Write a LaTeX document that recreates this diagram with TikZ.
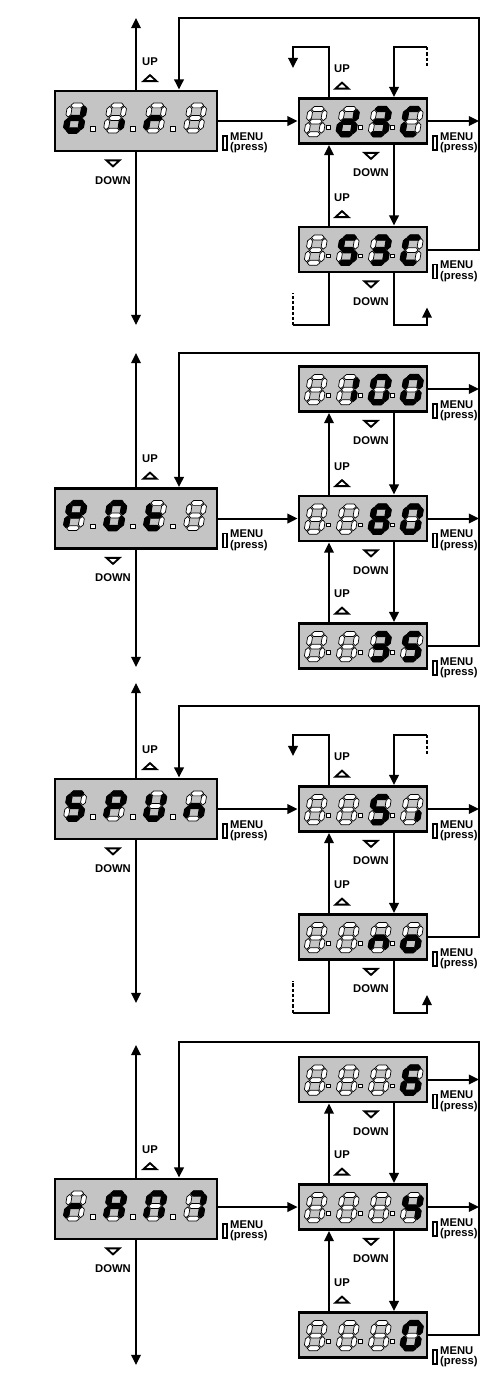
\documentclass[tikz,border=0pt]{standalone}
\usepackage{fontspec}
\setsansfont{Liberation Sans}
\usetikzlibrary{positioning, arrows.meta, calc}

\definecolor{lcd-gray}{HTML}{C4C4C4}

% seven segment geometry (digit 18 x 30, origin top left)
\def\segw{2.45}
\newcommand{\segH}[3]{(#1,#3) -- ({#1+\segw},{#3-\segw}) -- ({#2-\segw},{#3-\segw}) -- (#2,#3) -- ({#2-\segw},{#3+\segw}) -- ({#1+\segw},{#3+\segw}) -- cycle}
\newcommand{\segV}[3]{(#3,#1) -- ({#3+\segw},{#1+\segw}) -- ({#3+\segw},{#2-\segw}) -- (#3,#2) -- ({#3-\segw},{#2-\segw}) -- ({#3-\segw},{#1+\segw}) -- cycle}
\def\segpa{\segH{3.3}{16.1}{2.4}}
\def\segpg{\segH{3.3}{16.1}{15}}
\def\segpd{\segH{3.3}{16.1}{27.6}}
\def\segpf{\segV{3.3}{14.1}{2.4}}
\def\segpb{\segV{3.3}{14.1}{17}}
\def\segpe{\segV{15.9}{26.7}{2.4}}
\def\segpc{\segV{15.9}{26.7}{17}}
\def\segpx{}
\newcommand{\segpath}[1]{\csname segp#1\endcsname}

\tikzset{
  lcdL/.style={draw, line width=1.6pt, fill=lcd-gray, minimum width=3.24cm, minimum height=1.2cm, inner sep=0},
  lcdS/.style={lcdL, minimum width=2.56cm, minimum height=0.9cm},
  segoff/.style={fill=white, draw=black, line width=0.4pt, line join=round},
  segon/.style={fill=black, draw=black, line width=0.8pt, line join=round},
  arr/.style={-{Triangle[length=5.8pt, width=5.4pt]}, line width=1.15pt},
  ln/.style={line width=1.15pt},
  dashln/.style={line width=1.15pt, dash pattern=on 1.8pt off 1.2pt},
  tri/.style={draw, line width=1.05pt},
  lbl/.style={font=\sffamily\bfseries\fontsize{6.4}{6.1}\selectfont, inner sep=0},
  menulbl/.style={lbl, align=left},
  keybtn/.style={draw, fill=white, line width=0.9pt, minimum width=0.08cm, minimum height=0.28cm, inner sep=0},
  lcddigit/.pic={
    \begin{scope}[xslant=0.17]
      \foreach \s in {a,...,g} \path[segoff] \segpath{\s};
      \foreach \s in {#1} \path[segon] \segpath{\s};
    \end{scope}
  },
  uptri/.pic={\draw[tri] (-6.5,3) -- (6.5,3) -- (0,-3) -- cycle;},
  downtri/.pic={\draw[tri] (-6.5,-3) -- (6.5,-3) -- (0,3) -- cycle;},
}

% display box with four digits
\newcommand{\lcdpanel}[8]{%
  \node[#2] (#1) at (#4) {};
  \begin{scope}[shift={(#1.center)}, scale=#3]
    \pic at (-68,-18) {lcddigit={#5}};
    \pic at (-28,-18) {lcddigit={#6}};
    \pic at (12,-18) {lcddigit={#7}};
    \pic at (52,-18) {lcddigit={#8}};
    \foreach \i in {0,1,2} \draw[segoff] (-45.5+40*\i,5.5) rectangle ++(4.5,4.5);
  \end{scope}}

\newcommand{\upmark}[3]{%
  \node[lbl] (#1) at ($(#2)+(#3,-28)$) {UP};
  \pic at ($(#2)+(#3,-11.5)$) {uptri};}
\newcommand{\downmark}[3]{%
  \pic at ($(#2)+(#3,11)$) {downtri};
  \node[lbl] (#1) at ($(#2)+(#3,28)$) {DOWN};}
\newcommand{\menukey}[2]{%
  \node[keybtn, anchor=north west] (#1k) at ($(#2)+(4,14)$) {};
  \node[menulbl, anchor=north west] (#1) at ($(#2)+(11.5,11)$) {MENU\\(press)};}

\begin{document}
\begin{tikzpicture}[x=0.02cm, y=-0.02cm]
  \useasboundingbox (0,0) rectangle (499,1374);

  % ---- dir
  \lcdpanel{dir}{lcdL}{1}{136,121}{b,c,d,e,g}{c}{e,g}{x}
  \lcdpanel{dxc}{lcdS}{0.8}{363,121}{x}{b,c,d,e,g}{a,b,c,d,g}{a,d,e,f}
  \lcdpanel{sxc}{lcdS}{0.8}{363,249.5}{x}{a,c,d,f,g}{a,b,c,d,g}{a,d,e,f}
  \coordinate (lp1) at (479,18);
  \coordinate (ax1t) at (136,18);
  \coordinate (ax1b) at (136,325);

  \draw[arr] (dir.north) -- (ax1t);
  \draw[arr] (dir.south) -- (ax1b);
  \draw[arr] (sxc.east) -| (lp1) -| ($(dir.north)+(43,0)$);
  \draw[arr] (dir.east) -- (dxc.west);
  \draw[arr] (dxc.east) -- (dxc.east -| lp1);
  \draw[arr] ($(sxc.north)+(-34,0)$) -- ($(dxc.south)+(-34,0)$);
  \draw[arr] ($(dxc.south)+(31,0)$) -- ($(sxc.north)+(31,0)$);
  % wrap round
  \draw[arr] ($(dxc.north)+(-34,0)$) -- ++(0,-50) -| ($(dxc.north)+(-70,-29)$);
  \draw[dashln] ($(dxc.north)+(64,-50)$) -- ++(0,21);
  \draw[arr] ($(dxc.north)+(64,-50)$) -| ($(dxc.north)+(31,0)$);
  \draw[ln] ($(sxc.south)+(-34,0)$) -- ++(0,52) -- ++(-36,0);
  \draw[dashln] ($(sxc.south)+(-70,52)$) -- ++(0,-32);
  \draw[arr] ($(sxc.south)+(31,0)$) -- ++(0,52) -- ++(33,0) -- ++(0,-18);

  \upmark{dirup}{dir.north}{14}
  \downmark{dirdn}{dir.south}{-23}
  \upmark{dxcup}{dxc.north}{-21}
  \downmark{dxcdn}{dxc.south}{8}
  \upmark{sxcup}{sxc.north}{-21}
  \downmark{sxcdn}{sxc.south}{8}
  \menukey{dirmk}{dir.east}
  \menukey{dxcmk}{dxc.east}
  \menukey{sxcmk}{sxc.east}

  % ---- pot
  \lcdpanel{pot}{lcdL}{1}{136,518.5}{a,b,e,f,g}{a,b,c,d,e,f}{d,e,f,g}{x}
  \lcdpanel{p100}{lcdS}{0.8}{363,389}{x}{b,c}{a,b,c,d,e,f}{a,b,c,d,e,f}
  \lcdpanel{p80}{lcdS}{0.8}{363,518.5}{x}{x}{a,b,c,d,e,f,g}{a,b,c,d,e,f}
  \lcdpanel{p35}{lcdS}{0.8}{363,646}{x}{x}{a,b,c,d,g}{a,c,d,f,g}
  \coordinate (lp2) at (479,353);
  \coordinate (ax2t) at (136,353);
  \coordinate (ax2b) at (136,667);

  \draw[arr] (pot.north) -- (ax2t);
  \draw[arr] (pot.south) -- (ax2b);
  \draw[arr] (p35.east) -| (lp2) -| ($(pot.north)+(43,0)$);
  \draw[arr] (pot.east) -- (p80.west);
  \draw[arr] (p100.east) -- (p100.east -| lp2);
  \draw[arr] (p80.east) -- (p80.east -| lp2);
  \draw[arr] ($(p80.north)+(-34,0)$) -- ($(p100.south)+(-34,0)$);
  \draw[arr] ($(p100.south)+(31,0)$) -- ($(p80.north)+(31,0)$);
  \draw[arr] ($(p35.north)+(-34,0)$) -- ($(p80.south)+(-34,0)$);
  \draw[arr] ($(p80.south)+(31,0)$) -- ($(p35.north)+(31,0)$);

  \upmark{potup}{pot.north}{14}
  \downmark{potdn}{pot.south}{-23}
  \downmark{p100dn}{p100.south}{8}
  \upmark{p80up}{p80.north}{-21}
  \downmark{p80dn}{p80.south}{8}
  \upmark{p35up}{p35.north}{-21}
  \menukey{potmk}{pot.east}
  \menukey{p100mk}{p100.east}
  \menukey{p80mk}{p80.east}
  \menukey{p35mk}{p35.east}

  % ---- spun
  \lcdpanel{spun}{lcdL}{1}{136,809}{a,c,d,f,g}{a,b,e,f,g}{b,c,d,e,f}{c,e,g}
  \lcdpanel{psi}{lcdS}{0.8}{363,809}{x}{x}{a,c,d,f,g}{c}
  \lcdpanel{pno}{lcdS}{0.8}{363,937}{x}{x}{c,e,g}{c,d,e,g}
  \coordinate (lp3) at (479,706);
  \coordinate (ax3t) at (136,683);
  \coordinate (ax3b) at (136,1003);

  \draw[arr] (spun.north) -- (ax3t);
  \draw[arr] (spun.south) -- (ax3b);
  \draw[arr] (pno.east) -| (lp3) -| ($(spun.north)+(43,0)$);
  \draw[arr] (spun.east) -- (psi.west);
  \draw[arr] (psi.east) -- (psi.east -| lp3);
  \draw[arr] ($(pno.north)+(-34,0)$) -- ($(psi.south)+(-34,0)$);
  \draw[arr] ($(psi.south)+(31,0)$) -- ($(pno.north)+(31,0)$);
  % wrap round
  \draw[arr] ($(psi.north)+(-34,0)$) -- ++(0,-50) -| ($(psi.north)+(-70,-29)$);
  \draw[dashln] ($(psi.north)+(64,-50)$) -- ++(0,21);
  \draw[arr] ($(psi.north)+(64,-50)$) -| ($(psi.north)+(31,0)$);
  \draw[ln] ($(pno.south)+(-34,0)$) -- ++(0,52) -- ++(-36,0);
  \draw[dashln] ($(pno.south)+(-70,52)$) -- ++(0,-32);
  \draw[arr] ($(pno.south)+(31,0)$) -- ++(0,52) -- ++(33,0) -- ++(0,-18);

  \upmark{spunup}{spun.north}{14}
  \downmark{spundn}{spun.south}{-23}
  \upmark{psiup}{psi.north}{-21}
  \downmark{psidn}{psi.south}{8}
  \upmark{pnoup}{pno.north}{-21}
  \downmark{pnodn}{pno.south}{8}
  \menukey{spunmk}{spun.east}
  \menukey{psimk}{psi.east}
  \menukey{pnomk}{pno.east}

  % ---- ramp
  \lcdpanel{ramp}{lcdL}{1}{136,1209}{e,g}{a,b,c,e,f,g}{a,b,c,e,f}{a,b,c}
  \lcdpanel{r6}{lcdS}{0.8}{363,1079.5}{x}{x}{x}{a,c,d,e,f,g}
  \lcdpanel{r4}{lcdS}{0.8}{363,1207}{x}{x}{x}{b,c,f,g}
  \lcdpanel{r0}{lcdS}{0.8}{363,1335}{x}{x}{x}{a,b,c,d,e,f}
  \coordinate (lp4) at (479,1042);
  \coordinate (ax4t) at (136,1045);
  \coordinate (ax4b) at (136,1365);

  \draw[arr] (ramp.north) -- (ax4t);
  \draw[arr] (ramp.south) -- (ax4b);
  \draw[arr] (r0.east) -| (lp4) -| ($(ramp.north)+(43,0)$);
  \draw[arr] (ramp.east |- r4.west) -- (r4.west);
  \draw[arr] (r6.east) -- (r6.east -| lp4);
  \draw[arr] (r4.east) -- (r4.east -| lp4);
  \draw[arr] ($(r4.north)+(-34,0)$) -- ($(r6.south)+(-34,0)$);
  \draw[arr] ($(r6.south)+(31,0)$) -- ($(r4.north)+(31,0)$);
  \draw[arr] ($(r0.north)+(-34,0)$) -- ($(r4.south)+(-34,0)$);
  \draw[arr] ($(r4.south)+(31,0)$) -- ($(r0.north)+(31,0)$);

  \upmark{rampup}{ramp.north}{14}
  \downmark{rampdn}{ramp.south}{-23}
  \downmark{r6dn}{r6.south}{8}
  \upmark{r4up}{r4.north}{-21}
  \downmark{r4dn}{r4.south}{8}
  \upmark{r0up}{r0.north}{-21}
  \menukey{rampmk}{ramp.east}
  \menukey{r6mk}{r6.east}
  \menukey{r4mk}{r4.east}
  \menukey{r0mk}{r0.east}
\end{tikzpicture}
\end{document}
